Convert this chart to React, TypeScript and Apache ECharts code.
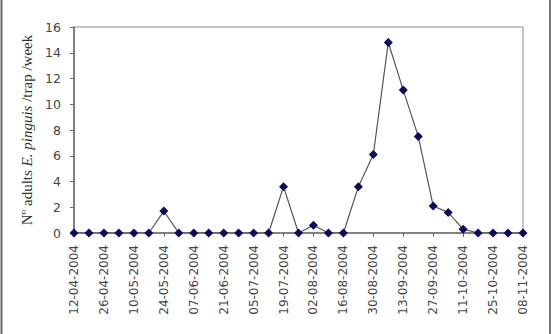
import React, { useEffect, useRef } from "react";
import * as echarts from "echarts";

const dates = [
  "12-04-2004", "19-04-2004", "26-04-2004", "03-05-2004", "10-05-2004", "17-05-2004",
  "24-05-2004", "31-05-2004", "07-06-2004", "14-06-2004", "21-06-2004", "28-06-2004",
  "05-07-2004", "12-07-2004", "19-07-2004", "26-07-2004", "02-08-2004", "09-08-2004",
  "16-08-2004", "23-08-2004", "30-08-2004", "06-09-2004", "13-09-2004", "20-09-2004",
  "27-09-2004", "04-10-2004", "11-10-2004", "18-10-2004", "25-10-2004", "01-11-2004",
  "08-11-2004",
];

const adults = [
  0, 0, 0, 0, 0, 0, 1.7, 0, 0, 0, 0, 0, 0, 0, 3.6, 0, 0.6, 0, 0, 3.6, 6.1, 14.8, 11.1,
  7.5, 2.1, 1.6, 0.3, 0, 0, 0, 0,
];

const yTicks = { min: 0, max: 16, interval: 2 };

export default function App() {
  const ref = useRef<HTMLDivElement>(null);
  useEffect(() => {
    if (!ref.current) return;
    const chart = echarts.init(ref.current, null, { renderer: "svg" });
    const tickFont = "'DejaVu Sans', Verdana, sans-serif";
    chart.setOption({
      animation: false,
      backgroundColor: "#ffffff",
      grid: {
        left: 74,
        right: 30,
        top: 27,
        bottom: 101,
        show: true,
        borderColor: "#8a8a8a",
        borderWidth: 1,
        backgroundColor: "transparent",
      },
      xAxis: {
        type: "category",
        data: dates,
        boundaryGap: false,
        axisLine: { lineStyle: { color: "#6b6b6b", width: 1.5 } },
        axisTick: { show: true, interval: 1, length: 4, lineStyle: { color: "#6b6b6b" } },
        axisLabel: {
          interval: 1,
          rotate: 90,
          margin: 12,
          color: "#444444",
          fontFamily: tickFont,
          fontSize: 12,
        },
        splitLine: { show: false },
      },
      yAxis: {
        type: "value",
        min: yTicks.min,
        max: yTicks.max,
        interval: yTicks.interval,
        axisLine: { show: true, lineStyle: { color: "#6b6b6b", width: 1.5 } },
        axisTick: { show: true, length: 4, lineStyle: { color: "#6b6b6b" } },
        axisLabel: { color: "#444444", fontFamily: tickFont, fontSize: 12.5, margin: 13 },
        splitLine: { show: false },
        name: "{n|Nº adults }{i|E. pinguis}{n| /trap /week}",
        nameLocation: "middle",
        nameRotate: 90,
        nameGap: 38,
        nameTextStyle: {
          rich: {
            n: { fontFamily: "'Liberation Serif', serif", fontSize: 15, color: "#333" },
            i: {
              fontFamily: "'Liberation Serif', serif",
              fontSize: 15,
              fontStyle: "italic",
              color: "#333",
            },
          },
        },
      },
      series: [
        {
          type: "line",
          data: adults,
          symbol: "diamond",
          symbolSize: 9,
          itemStyle: { color: "#0a0a5a" },
          lineStyle: { color: "#555555", width: 1.2 },
        },
      ],
      graphic: [
        {
          type: "line",
          shape: { x1: 1.5, y1: 0, x2: 1.5, y2: 334 },
          style: { stroke: "#666", lineWidth: 2 },
        },
        {
          type: "line",
          shape: { x1: 550, y1: 0, x2: 550, y2: 334 },
          style: { stroke: "#777", lineWidth: 2 },
        },
      ],
    });
    return () => chart.dispose();
  }, []);
  return (
    <div
      ref={ref}
      style={{ position: "fixed", left: 0, top: 0, width: 553, height: 334 }}
    />
  );
}
